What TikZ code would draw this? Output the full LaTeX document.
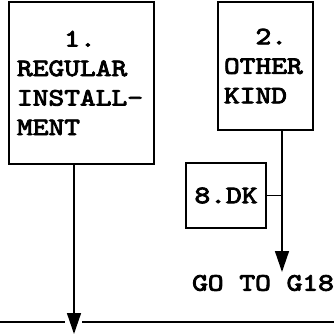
\documentclass[tikz,border=0pt]{standalone}
\usepackage{fontspec}
\newfontfamily\schreib[Extension=.otf, FakeStretch=1.2, FakeBold=3.5]{lmmono10-regular}
\usepackage{tikz}
\usetikzlibrary{positioning, arrows.meta, calc}

\begin{document}
\begin{tikzpicture}[
            x=1pt, y=-1pt,
            kasten/.style={
                    draw,
                    line width=1.6pt,
                    rectangle,
                    align=left,
                    inner ysep=0pt,
                    font=\schreib\fontsize{25}{29.5}\selectfont
                },
            pfeil/.style={
                    draw,
                    line width=1.5pt,
                    -{Triangle[width=14pt,length=21pt]}
                },
            linie/.style={
                    draw,
                    line width=1.5pt
                },
            label/.style={
                    font=\schreib\fontsize{25}{29.5}\selectfont
                }
        ]

        \useasboundingbox (0,0) rectangle (334,335);

        \node[kasten, inner xsep=8pt, text width=129pt, minimum height=162pt] (regular) at (81.5,83)
            {\hphantom{000}1.\\REGULAR\\INSTALL-\\MENT};
        \node[kasten, inner xsep=6pt, text width=83pt, minimum height=128pt] (other) at (265.5,66)
            {\hphantom{00}2.\\OTHER\\KIND};
        \node[kasten, inner xsep=6pt, minimum width=80pt, minimum height=65pt] (dk) at (226,195.5) {8.DK};

        \coordinate (g18) at (282,272);
        \coordinate (unten) at (74,334);
        \coordinate (links) at (0,322);
        \coordinate (rechts) at (334,322);

        \node[label] (goto) at (263,283) {GO TO G18};

        \draw[pfeil] (other.south -| g18) -- (g18);
        \draw[linie] (dk.east) -- (dk.east -| g18);
        \draw[pfeil] (regular.south -| unten) -- (unten);
        \draw[linie] (links) -- ($(links -| unten) + (-9,0)$);
        \draw[linie] ($(rechts -| unten) + (8,0)$) -- (rechts);

    \end{tikzpicture}
\end{document}
